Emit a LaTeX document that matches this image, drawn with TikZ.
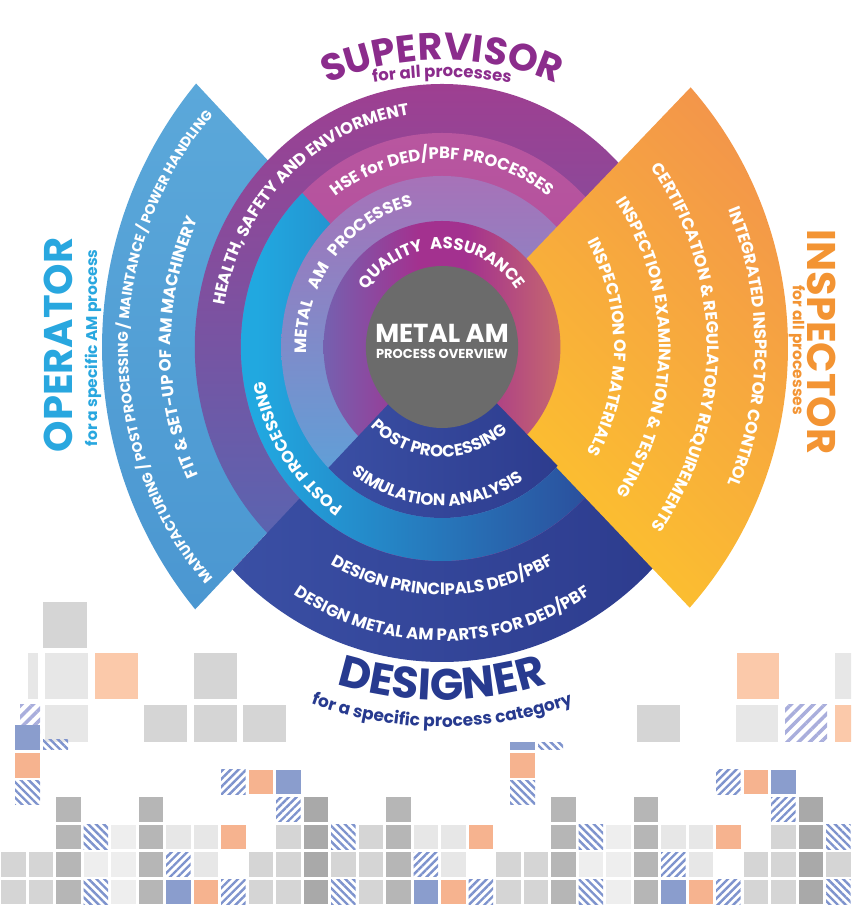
\documentclass[tikz,border=0pt]{standalone}
\usepackage{fontspec}
\setmainfont{Poppins}
\usetikzlibrary{calc,decorations.text,patterns.meta}

\definecolor{supervisorpurple}{HTML}{8B2C8C}
\definecolor{designernavy}{HTML}{273A8F}
\definecolor{operatorblue}{HTML}{29A7DF}
\definecolor{inspectororange}{HTML}{F39433}
\definecolor{opwtop}{HTML}{5BA8DA}
\definecolor{opwbot}{HTML}{4B97D1}
\definecolor{inyellow}{HTML}{FDC62B}
\definecolor{inorange}{HTML}{F3964A}
\definecolor{r4top}{HTML}{9E3F91}
\definecolor{r4mid}{HTML}{82509F}
\definecolor{r4bot}{HTML}{4F6AB5}
\definecolor{hsetop}{HTML}{B8569F}
\definecolor{hsebot}{HTML}{A9449A}
\definecolor{r2top}{HTML}{A772B8}
\definecolor{r2mid}{HTML}{8D88C8}
\definecolor{r2bot}{HTML}{55A6DC}
\definecolor{qablue}{HTML}{3C9CD8}
\definecolor{qamagenta}{HTML}{A3318F}
\definecolor{qaorange}{HTML}{F2AC45}
\definecolor{ppcyan}{HTML}{21A8E0}
\definecolor{dsblue}{HTML}{2D3C8E}
\definecolor{dsleft}{HTML}{3A4FA4}
\definecolor{centergray}{HTML}{6B6B6B}
\definecolor{sqlightc}{HTML}{EEEEEE}
\definecolor{sqpalec}{HTML}{E7E7E7}
\definecolor{sqmidc}{HTML}{D5D5D5}
\definecolor{sqgrayc}{HTML}{B6B6B6}
\definecolor{sqdarkc}{HTML}{A9A9A9}
\definecolor{sqpeachc}{HTML}{F6B38F}
\definecolor{sqbluec}{HTML}{8A9DCD}
\definecolor{hatchc}{HTML}{7E93CD}
\definecolor{peachlight}{HTML}{FBC9AA}
\definecolor{hatchlight}{HTML}{A9AEDC}

\pgfdeclarehorizontalshading{qualityshade}{100bp}{color(0bp)=(qablue); color(45bp)=(qamagenta); color(55bp)=(qamagenta); color(100bp)=(qaorange)}
\pgfdeclarehorizontalshading{postshade}{100bp}{color(0bp)=(ppcyan); color(30bp)=(ppcyan); color(85bp)=(dsblue); color(100bp)=(dsblue)}

\newcommand\ringfont{\bfseries\fontsize{16.5}{18}\selectfont}
\newcommand\wedgefont{\bfseries\fontsize{14}{16}\selectfont}

\tikzset{
  ringtext/.style={decorate, decoration={text along path, text align=center, text color=white, text={|\ringfont|#1}}},
  wedgetext/.style={decorate, decoration={text along path, text align=center, text color=white, text={|\wedgefont|#1}}},
  sqlight/.style={fill=sqlightc},
  sqpale/.style={fill=sqpalec},
  sqmid/.style={fill=sqmidc},
  sqgray/.style={fill=sqgrayc},
  sqdark/.style={fill=sqdarkc},
  sqpeach/.style={fill=sqpeachc},
  sqblue/.style={fill=sqbluec},
  sqhatchf/.style={pattern={Lines[angle=45,distance=5.5pt,line width=2.4pt]}, pattern color=hatchc},
  sqhatchb/.style={pattern={Lines[angle=-45,distance=5.5pt,line width=2.4pt]}, pattern color=hatchc},
  bighatch/.style={pattern={Lines[angle=45,distance=8pt,line width=3.5pt]}, pattern color=hatchlight},
}

\begin{document}
\begin{tikzpicture}[x=1pt, y=1pt]
	\useasboundingbox (0,0) rectangle (851,907);
	\clip (0,0) rectangle (851,907);
	
	% Operator-Keil links
	\shade[top color=opwtop, bottom color=opwbot] (442,560) -- ($(518,560)+(140.7:416)$) arc[start angle=140.7, end angle=219.1, radius=416] -- cycle;
	
	% Ringe hinten
	\begin{scope}[shift={(442,560)}, xscale=0.94]
		\shade[top color=r4top, middle color=r4mid, bottom color=r4bot] (0,0) circle (263);
		\shade[left color=dsleft, right color=dsblue] (0,0) -- (225:315) arc[start angle=225, end angle=316, radius=315] -- cycle;
		\shade[top color=hsetop, bottom color=hsebot] (0,0) circle (214);
		\shade[shading=postshade] (0,0) -- (134:214) arc[start angle=134, end angle=316, radius=214] -- cycle;
		\shade[top color=r2top, middle color=r2mid, bottom color=r2bot] (0,0) circle (171);
	\end{scope}
	
	% Inspector-Keil rechts
	\shade[top color=inyellow, bottom color=inorange, shading angle=135] (442,560) -- ($(393,560)+(41.1:395)$) arc[start angle=41.1, end angle=-41.3, radius=395] -- cycle;
	
	% Ringe vorne
	\begin{scope}[shift={(442,560)}, xscale=0.94]
		\shade[shading=qualityshade] (0,0) circle (126);
		\shade[left color=dsleft, right color=dsblue] (0,0) -- (225:171) arc[start angle=225, end angle=316, radius=171] -- cycle;
		\fill[centergray] (0,0) circle (81);
		
		\path[ringtext={QUALITY{\ }{\ }ASSURANCE}] (180:98) arc[start angle=180, end angle=0, radius=98];
		\path[ringtext={METAL{\ }{\ }{\ }AM{\ }{\ }{\ }PROCESSES}] (231.5:144) arc[start angle=231.5, end angle=51.5, radius=144];
		\path[ringtext={HSE for DED/PBF PROCESSES}] (170:188) arc[start angle=170, end angle=10, radius=188];
		\path[ringtext={HEALTH, SAFETY AND ENVIORMENT}] (223:235) arc[start angle=223, end angle=43, radius=235];
		\path[ringtext={POST PROCESSING}] (190:110) arc[start angle=190, end angle=346, radius=110];
		\path[ringtext={SIMULATION ANALYSIS}] (198:159) arc[start angle=198, end angle=338, radius=159];
		\path[ringtext={POST PROCESSING}] (254:191) arc[start angle=254, end angle=174, radius=191];
		\path[ringtext={DESIGN PRINCIPALS DED/PBF}] (215:248) arc[start angle=215, end angle=325, radius=248];
		\path[ringtext={DESIGN METAL AM PARTS FOR DED/PBF}] (215:294) arc[start angle=215, end angle=325, radius=294];
	\end{scope}
	
	% Mitte
	\node[text=white, font=\bfseries\fontsize{26}{28}\selectfont] (title) at (442,574) {METAL AM};
	\node[text=white, font=\bfseries\fontsize{13}{15}\selectfont] (subtitle) at (442,553) {PROCESS OVERVIEW};
	
	% Texte in den Keilen
	\path[wedgetext={MANUFACTURING / POST PROCESSING / MAINTANCE / POWER HANDLING}] ($(485,560)+(250:357)$) arc[start angle=250, end angle=110, radius=357];
	\path[ringtext={FIT {\&} SET-UP OF AM MACHINERY}] ($(485,560)+(250:314)$) arc[start angle=250, end angle=110, radius=314];
	\path[ringtext={INTEGRATED INSPECTOR CONTROL}] ($(393,560)+(70:362)$) arc[start angle=70, end angle=-70, radius=362];
	\path[ringtext={CERTIFICATION {\&} REGULATORY REQUIREMENTS}] ($(393,560)+(70:314)$) arc[start angle=70, end angle=-70, radius=314];
	\path[ringtext={INSPECTION EXAMINATION {\&} TESTING}] ($(393,560)+(70:266)$) arc[start angle=70, end angle=-70, radius=266];
	\path[ringtext={INSPECTION OF MATERIALS}] ($(393,560)+(70:221)$) arc[start angle=70, end angle=-70, radius=221];
	
	% Rollen
	\path[decorate, decoration={text along path, text align=center, text color=supervisorpurple, text={|\bfseries\fontsize{38}{40}\selectfont|SUPERVISOR}}] ($(442,560)+(150:287)$) arc[start angle=150, end angle=30, radius=287];
	\path[decorate, decoration={text along path, text align=center, text color=supervisorpurple, text={|\bfseries\fontsize{16.5}{18}\selectfont|for all processes}}] ($(442,430)+(110:400)$) arc[start angle=110, end angle=70, radius=400];
	\path[decorate, decoration={text along path, text align=center, text color=designernavy, text={|\bfseries\fontsize{44}{46}\selectfont|DESIGNER}}] ($(442,560)+(240:353)$) arc[start angle=240, end angle=300, radius=353];
	\path[decorate, decoration={text along path, text align=center, text color=designernavy, text={|\bfseries\fontsize{17}{19}\selectfont|for a specific process category}}] ($(442,560)+(235:380)$) arc[start angle=235, end angle=305, radius=380];
	\node[rotate=90, text=operatorblue, font=\bfseries\fontsize{40}{44}\selectfont] (operator) at (58,562) {OPERATOR};
	\node[rotate=90, text=operatorblue, font=\bfseries\fontsize{15.5}{18}\selectfont] (operatorsub) at (93,559) {for a specific AM process};
	\node[rotate=-90, text=inspectororange, font=\bfseries\fontsize{40}{44}\selectfont] (inspector) at (822,565) {INSPECTOR};
	\node[rotate=-90, text=inspectororange, font=\bfseries\fontsize{15.5}{18}\selectfont] (inspectorsub) at (797,557) {for all processes};
	
	% Kacheln oben
	\path[sqmid] (43,305) rectangle (87,259);
	\path[sqpale] (28,254) rectangle (38,208);
	\path[sqpale] (45,254) rectangle (88,208);
	\path[fill=peachlight] (95,254) rectangle (138,208);
	\path[sqmid] (194,254) rectangle (237,208);
	\path[fill=peachlight] (737,254) rectangle (779,208);
	\path[sqpale] (835,254) rectangle (878,208);
	\path[bighatch] (20,202) rectangle (40,165);
	\path[sqpale] (45,202) rectangle (88,165);
	\path[sqmid] (144,202) rectangle (187,165);
	\path[sqmid] (194,202) rectangle (237,165);
	\path[sqmid] (243,202) rectangle (286,165);
	\path[sqmid] (637,202) rectangle (680,165);
	\path[sqpale] (736,202) rectangle (778,165);
	\path[bighatch] (785,202) rectangle (827,165);
	\path[fill=peachlight] (835,202) rectangle (878,165);
	
	% Kacheln unten
	\foreach \x in {0,495}{
		\path[sqblue] (15+\x,182) rectangle ++(25,-25);
		\path[sqhatchb] (43+\x,167) rectangle ++(25,-10);
		\path[sqpeach] (15+\x,154) rectangle ++(25,-25);
		\path[sqhatchb] (15+\x,126) rectangle ++(25,-24);
	}
	\path[fill=white] (500,182) rectangle (580,165);
	\foreach \n in {0,1}{
		\foreach \r/\t/\s in {6/0/sqmid, 6/1/sqmid, 6/2/sqgray, 6/3/sqhatchb, 6/4/sqlight, 6/5/sqgray, 6/6/sqblue, 6/7/sqpeach, 6/8/sqhatchf, 6/9/sqmid, 6/10/sqmid, 6/11/sqdark, 6/12/sqhatchb, 6/13/sqmid, 6/14/sqgray, 6/15/sqblue, 6/16/sqpeach, 6/17/sqhatchf,
			5/0/sqmid, 5/1/sqmid, 5/2/sqgray, 5/3/sqlight, 5/4/sqlight, 5/5/sqgray, 5/6/sqhatchf, 5/7/sqpale, 5/9/sqmid, 5/10/sqmid, 5/11/sqdark, 5/12/sqmid, 5/13/sqmid, 5/14/sqgray, 5/15/sqhatchf, 5/16/sqpale,
			4/2/sqgray, 4/3/sqhatchb, 4/4/sqlight, 4/5/sqgray, 4/6/sqpale, 4/7/sqpale, 4/8/sqpeach, 4/10/sqmid, 4/11/sqdark, 4/12/sqhatchb, 4/13/sqmid, 4/14/sqgray, 4/15/sqpale, 4/16/sqpale, 4/17/sqpeach,
			3/2/sqgray, 3/5/sqgray, 3/10/sqhatchf, 3/11/sqdark, 3/14/sqgray,
			2/8/sqhatchf, 2/9/sqpeach, 2/10/sqblue}
			\path[\s] ({1+27.5*(\t+18*\n)},{27+27.5*(6-\r)}) rectangle ++(24.5,-24.5);
	}
	
\end{tikzpicture}
\end{document}
